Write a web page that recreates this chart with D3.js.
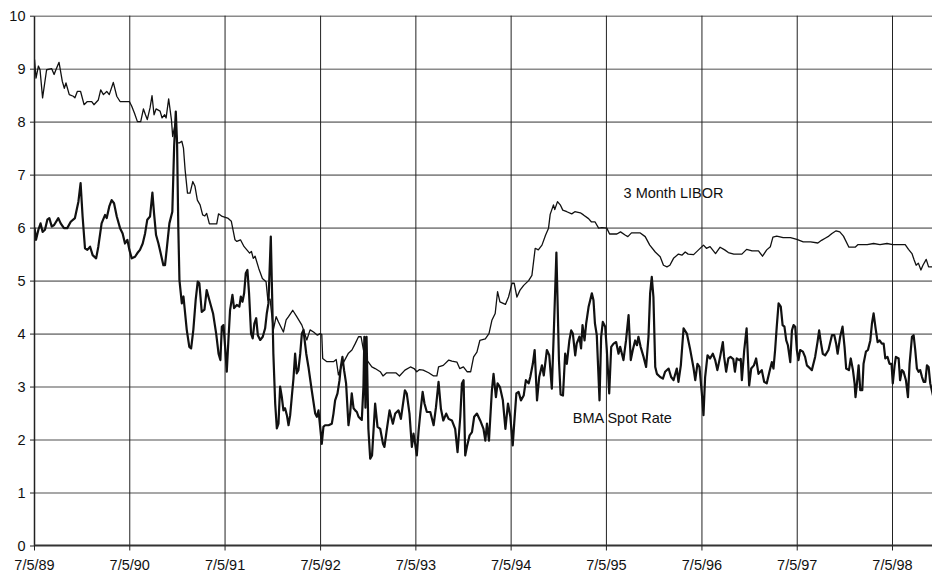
<!DOCTYPE html>
<html><head><meta charset="utf-8">
<script src="https://cdn.jsdelivr.net/npm/d3@7"></script>
<style>body{margin:0;background:#fff}svg{display:block;font-family:"Liberation Sans",Arial,Helvetica,sans-serif}</style>
</head><body><svg id="c" width="932" height="572"></svg>
<script>
// ---- data (weeks after 7/5/89, rate in %) ----
const startDate = new Date(1989, 6, 5);
const yTickValues = [0, 1, 2, 3, 4, 5, 6, 7, 8, 9, 10];
const xTickYears = [1989, 1990, 1991, 1992, 1993, 1994, 1995, 1996, 1997, 1998];
const seriesNames = ["3 Month LIBOR", "BMA Spot Rate"];
const labelAnchors = [[350, 6.56], [322, 2.31]]; // [week, rate] where each series name sits

const libor = [
[0.3,9.17],[1.1,8.82],[2.4,9.05],[3.3,8.98],[4.7,8.45],[6.9,8.98],[9.7,9.0],[11,8.89],[12,8.98],[13.7,9.12],
[15.5,8.76],[16.6,8.63],[17.5,8.73],[19.3,8.51],[21.5,8.48],[22.4,8.45],[23.7,8.57],[25.5,8.57],[27.4,8.32],[29.2,8.38],
[31.6,8.38],[32.8,8.32],[35.2,8.41],[36.5,8.6],[38,8.51],[39.8,8.57],[41.2,8.51],[43.4,8.74],[45.3,8.48],[47.1,8.38],
[52.2,8.38],[53.5,8.29],[55,8.16],[56.6,8.0],[58.4,8.0],[59.9,8.24],[61,8.13],[62,8.04],[63.5,8.26],[64.6,8.49],
[65.7,8.13],[66.8,8.24],[69,8.2],[70.1,8.07],[71.5,8.13],[72.3,8.07],[73.7,8.43],[75.2,8.04],[75.9,7.72],[77.2,7.95],
[78.5,7.6],[79.6,7.6],[80.9,7.63],[81.8,7.5],[82.7,7.09],[84,6.65],[85.4,6.65],[86.9,6.87],[88.1,6.78],[89.4,6.52],
[90.9,6.43],[92.3,6.24],[93.5,6.22],[94.5,6.27],[96,6.07],[100,6.07],[101,6.26],[103,6.21],[106,6.18],[108,6.12],
[110,5.77],[111,5.74],[113,5.77],[115,5.64],[116.5,5.58],[118,5.52],[119,5.55],[120,5.42],[121,5.46],[123,5.23],
[125,5.04],[127,4.98],[128,4.63],[129.2,4.65],[131,4.07],[132.5,4.32],[133.8,4.22],[136.5,4.03],[138,4.26],[139.3,4.32],
[141.6,4.44],[143.8,4.32],[146.6,4.16],[147.5,4.07],[149.3,3.88],[151.1,4.07],[153,4.03],[155.1,3.97],[156.6,4.0],[157.5,3.98],
[158,3.53],[160.3,3.47],[163.9,3.47],[165.4,3.51],[166.6,3.22],[168.5,3.4],[172.1,3.63],[174,3.69],[175.8,3.81],[177.6,3.94],
[179,3.94],[180.3,3.69],[182.2,3.5],[184.9,3.37],[186.7,3.34],[189.5,3.28],[191,3.2],[193,3.26],[198,3.26],[200,3.2],
[203,3.31],[206,3.37],[208,3.34],[209.5,3.28],[211,3.32],[213,3.31],[216,3.26],[218.7,3.2],[220.5,3.2],[221.4,3.37],
[224,3.4],[227,3.5],[228.7,3.48],[231.5,3.46],[233,3.34],[235,3.37],[237,3.28],[239,3.28],[240.6,3.56],[242.4,3.65],
[244,3.87],[247,3.9],[249,4.0],[250.6,4.25],[252.4,4.38],[253.7,4.79],[255,4.6],[258,4.55],[259.7,4.69],[261.6,4.95],
[262.8,4.95],[264.3,4.69],[266,4.82],[268,4.91],[270.7,5.0],[272.5,5.1],[274.3,5.61],[276,5.58],[278,5.67],[280,5.86],
[281.6,5.99],[282.5,6.25],[284.3,6.43],[285,6.34],[286.5,6.49],[288,6.43],[289.4,6.33],[291.6,6.3],[294.3,6.26],[296,6.3],
[299,6.28],[300.7,6.24],[303.5,6.17],[305,6.11],[307,6.11],[309,5.99],[310.8,6.0],[313.5,5.99],[315,5.88],[319,5.88],
[321,5.92],[323.5,5.86],[325,5.83],[327,5.9],[331.8,5.9],[334.5,5.83],[337,5.67],[340,5.54],[342.7,5.45],[344.5,5.29],
[346.4,5.26],[348,5.29],[350,5.42],[352.7,5.5],[354.6,5.48],[356.4,5.54],[358,5.5],[361,5.49],[363.7,5.58],[366.4,5.67],
[368,5.61],[370,5.64],[373,5.51],[375.5,5.63],[378,5.58],[380,5.53],[383,5.5],[387.4,5.5],[390,5.59],[393,5.56],
[396.5,5.56],[398.7,5.46],[401,5.58],[403,5.64],[404.4,5.82],[406.5,5.84],[410,5.81],[414,5.81],[417.5,5.78],[421,5.73],
[425,5.73],[429,5.71],[431,5.76],[433,5.8],[435,5.84],[436.7,5.89],[439,5.94],[441,5.92],[443,5.84],[446,5.63],
[449.4,5.63],[451,5.68],[456,5.68],[459.5,5.7],[463,5.68],[466.8,5.7],[470,5.68],[476.8,5.68],[478.6,5.59],[480.5,5.51],
[481.7,5.39],[482.8,5.29],[484,5.33],[485.4,5.2],[486.5,5.29],[488.3,5.4],[489.6,5.26],[492,5.26]
];

const bma = [
[0.3,6.0],[1.1,5.77],[2.4,5.96],[3.6,6.08],[4.7,5.92],[6,5.96],[7.3,6.15],[8.4,6.18],[9.7,6.02],[11,6.05],
[13.3,6.18],[14.6,6.08],[16.4,5.99],[18.2,5.99],[20.1,6.11],[22.4,6.18],[24.3,6.49],[25.5,6.84],[26.6,6.21],[27.9,5.61],
[29.2,5.58],[30.7,5.64],[32.1,5.48],[34,5.42],[35.2,5.64],[37,6.08],[38.9,6.24],[39.8,6.18],[41.2,6.4],[42.5,6.52],
[43.8,6.46],[45.3,6.21],[47.1,5.99],[48.5,5.89],[49.8,5.7],[51.1,5.77],[52.2,5.58],[53.5,5.42],[55.3,5.45],[56.6,5.52],
[58,5.58],[59.5,5.7],[60.8,5.89],[62,6.15],[63.5,6.21],[64.8,6.66],[65.7,6.27],[66.8,5.86],[68.1,5.7],[69.3,5.52],
[70.8,5.29],[71.7,5.29],[72.6,5.58],[74.1,6.08],[75.7,6.3],[76.7,7.53],[77.6,8.19],[78.3,7.59],[79,5.96],[79.6,5.01],
[80.9,4.57],[81.8,4.7],[83.6,4.07],[85,3.75],[86,3.72],[87.2,4.07],[88.5,4.64],[89.6,4.98],[90.5,4.95],[91.8,4.41],
[93.3,4.45],[94.5,4.82],[96,4.63],[98,4.38],[99.7,4.0],[101,3.62],[102,3.5],[102.8,4.13],[103.7,4.16],[104.6,3.75],
[105.5,3.28],[106.4,3.88],[107.3,4.44],[108.6,4.73],[109.5,4.48],[111,4.54],[112.4,4.51],[113.2,4.7],[114.1,4.6],[115,4.76],
[115.9,5.14],[116.8,5.2],[117.7,4.76],[118.8,4.0],[119.7,3.91],[120.6,4.19],[121.6,4.29],[122.5,3.97],[123.8,3.88],[125.2,3.94],
[126.5,4.1],[127.4,4.38],[128.3,4.57],[129.6,5.83],[130.3,4.76],[131,3.62],[132,2.68],[132.9,2.21],[133.8,2.3],[134.7,3.0],
[135.6,2.81],[136.5,2.55],[137.4,2.59],[138.4,2.46],[139.3,2.27],[140.2,2.46],[141.1,2.81],[142,3.15],[142.9,3.62],[143.8,3.25],
[144.7,3.31],[145.7,3.62],[146.6,4.0],[147.5,4.07],[148,3.91],[149,3.62],[150.2,3.37],[152,2.93],[153.9,2.49],[154.8,2.43],
[155.7,2.55],[156.6,2.24],[157.5,1.92],[158.4,2.24],[159.3,2.27],[161.2,2.27],[163,2.3],[163.9,2.49],[164.8,2.74],[166.1,2.87],
[167.2,3.12],[167.9,3.37],[168.8,3.56],[169.7,3.31],[170.8,3.06],[172.1,2.27],[173,2.49],[173.9,2.87],[174.9,2.59],[175.8,2.55],
[176.7,2.52],[177.6,2.43],[178.5,2.4],[179.4,2.37],[180.3,3.0],[180.8,3.94],[181.4,2.6],[182,3.94],[183,2.2],[184,1.64],
[185,1.7],[186.7,2.68],[188,2.24],[189.5,2.2],[191,1.92],[191.8,1.86],[193,2.17],[194.6,2.55],[196.4,2.3],[197.7,2.49],
[199.5,2.55],[200.8,2.39],[203,2.93],[204,2.87],[205.5,2.49],[206.8,1.86],[207.7,2.11],[208.6,1.92],[209.5,1.7],[210.5,2.17],
[211.4,2.49],[212.7,2.9],[213.7,2.68],[215,2.52],[216.9,2.52],[218.7,2.27],[220,2.61],[221.4,3.09],[222.7,2.58],[224,2.36],
[225.6,2.49],[226.9,2.39],[228.7,2.36],[230.5,2.2],[231.8,1.76],[233.3,2.43],[234.2,3.06],[235.1,3.12],[236,1.7],[236.9,1.86],
[238.4,2.08],[239.7,2.14],[240.9,2.43],[242.4,2.49],[244.2,2.36],[246,2.2],[247,1.98],[247.9,2.3],[249,1.98],[250.6,2.93],
[251.5,3.24],[252.8,2.8],[253.7,3.06],[255,2.99],[256.6,2.74],[258,2.2],[259.4,2.68],[260.7,2.43],[262,1.89],[262.8,2.3],
[264,2.87],[265.2,2.9],[266.5,2.74],[268,2.83],[269.2,3.12],[270.7,3.06],[271.6,3.18],[273,3.43],[274,3.69],[275.3,2.74],
[276.5,3.18],[278,3.4],[279,3.21],[280.7,3.69],[282,3.59],[283.4,2.96],[284.7,4.25],[285.9,5.53],[287.3,3.5],[288.2,2.85],
[289.5,2.83],[290.7,3.62],[291.6,3.43],[293,3.87],[294,4.06],[294.9,4.0],[296.2,3.59],[297,3.81],[298.5,3.94],[299.4,3.72],
[300.2,4.16],[301.3,3.87],[302.2,4.19],[303.5,4.5],[304.4,4.63],[305.3,4.76],[306.2,4.63],[307,4.19],[308,3.97],[309.5,2.74],
[310.4,3.94],[311.3,4.22],[312.6,4.13],[313.5,3.69],[314.8,2.87],[315.9,3.75],[317.2,3.81],[318.6,3.84],[319.9,3.62],[320.8,3.75],
[322.6,3.5],[324,3.87],[325.4,4.35],[326.6,3.5],[327.7,3.69],[329,3.87],[330,3.78],[330.8,3.94],[332,3.75],[333.6,3.56],
[335,3.37],[336.3,3.94],[337.2,4.76],[338.1,5.07],[339,4.69],[340,3.37],[340.9,3.24],[342.7,3.18],[344.2,3.15],[345.4,3.28],
[347.3,3.34],[348.7,3.18],[350,3.12],[351.8,3.34],[352.7,3.09],[354,3.4],[355.5,4.1],[357.3,4.0],[359,3.72],[361,3.34],
[361.9,3.12],[363.1,3.43],[364.2,3.37],[365.5,2.87],[366.4,2.46],[367.3,3.18],[368.6,3.59],[370,3.53],[371.5,3.62],[372.8,3.5],
[374,3.31],[375.5,3.56],[377,3.84],[377.7,3.56],[378.8,3.28],[380,3.53],[381.2,3.56],[382.7,3.52],[383.6,3.28],[384.6,3.53],
[386,3.5],[386.8,3.52],[387.4,3.12],[388.7,3.69],[390,4.1],[391.4,3.02],[392.5,3.34],[394,3.4],[395.2,3.53],[396.5,3.24],
[398.3,3.31],[399.6,3.09],[401,3.06],[402.5,3.28],[403.8,3.46],[404.7,3.34],[405.6,3.69],[406.5,4.13],[407.5,4.57],[408.7,4.51],
[409.7,4.16],[410.7,4.13],[411.7,3.87],[412.6,3.78],[413.9,3.46],[414.8,4.06],[415.7,4.16],[416.6,4.13],[417.5,3.69],[418.4,3.5],
[419.3,3.69],[420.8,3.66],[422,3.56],[423,3.4],[424.8,3.34],[425.7,3.31],[427.5,3.56],[428.8,3.84],[429.7,4.06],[430.6,3.84],
[431.7,3.62],[433,3.59],[434.8,3.69],[436.7,3.97],[438,3.97],[439,3.81],[439.8,3.62],[441.2,3.94],[442.5,4.13],[443.6,3.75],
[444.5,3.34],[446,3.31],[447,3.53],[448.2,3.31],[449.1,3.06],[449.6,2.8],[450.4,3.06],[451.3,3.4],[452.2,2.93],[453.3,2.93],
[454,3.43],[455.3,3.66],[456.4,3.69],[457.7,3.87],[458.6,4.19],[459.5,4.38],[460.6,4.1],[461.7,3.84],[462.8,3.87],[464,3.81],
[465,3.81],[465.9,3.53],[467.1,3.56],[468.2,3.43],[469.3,3.43],[470,3.06],[471,3.4],[471.7,3.56],[473.2,3.53],[474,3.12],
[475,3.31],[475.9,3.28],[477.2,3.12],[478.3,2.8],[479.2,3.43],[480.5,3.94],[481.4,3.97],[482.3,3.69],[483.2,3.34],[484.1,3.28],
[485,3.31],[486,3.18],[486.9,3.09],[487.8,3.09],[488.7,3.4],[489.6,3.37],[490.5,3.06],[492,2.83]
];

// ---- drawing ----
const plotLeft = 34, plotRight = 932, plotTop = 15.7, plotBottom = 545.5;
const toDate = w => new Date(startDate.getTime() + w * 7 * 864e5);
const yearDates = xTickYears.map(yr => new Date(yr, 6, 5));

const x = d3.scaleTime().domain([yearDates[0], yearDates[yearDates.length - 1]]).range([plotLeft, 892]);
const y = d3.scaleLinear().domain([0, 10]).range([plotBottom, plotTop]);

const svg = d3.select("#c");
svg.append("defs").append("clipPath").attr("id", "clip")
  .append("rect").attr("x", plotLeft).attr("y", 0).attr("width", plotRight - plotLeft).attr("height", plotBottom + 2);

// horizontal gridlines
const gy = svg.append("g").attr("transform", `translate(${plotLeft},0)`)
  .call(d3.axisRight(y).tickValues(yTickValues.filter(v => v > 0)).tickSize(plotRight - plotLeft).tickFormat(""));
gy.select(".domain").remove();
gy.selectAll(".tick line").attr("stroke", "#8a8a8a").attr("stroke-width", 1.6);

// vertical gridlines
const gx = svg.append("g").attr("transform", `translate(0,${plotBottom})`)
  .call(d3.axisTop(x).tickValues(yearDates.slice(1)).tickSize(plotBottom - plotTop).tickFormat(""));
gx.select(".domain").remove();
gx.selectAll(".tick line").attr("stroke", "#222").attr("stroke-width", 1);

// lines
const line = d3.line().x(d => x(toDate(d[0]))).y(d => y(d[1]));
const plot = svg.append("g").attr("clip-path", "url(#clip)");
plot.append("path").datum(libor).attr("d", line).attr("fill", "none")
  .attr("stroke", "#111").attr("stroke-width", 1.3).attr("stroke-linejoin", "round");
plot.append("path").datum(bma).attr("d", line).attr("fill", "none")
  .attr("stroke", "#111").attr("stroke-width", 2.2).attr("stroke-linejoin", "round");

// left axis
const ay = svg.append("g").attr("transform", `translate(${plotLeft},0)`)
  .call(d3.axisLeft(y).tickValues(yTickValues).tickSize(4).tickPadding(4.5).tickSizeOuter(0));
ay.select(".domain").attr("stroke", "#222").attr("stroke-width", 1.5);
ay.selectAll(".tick line").attr("stroke", "#222");
ay.selectAll("text").attr("font-size", 14.5).attr("fill", "#111").attr("font-family", '"Liberation Sans",Arial,sans-serif');

// bottom axis
const ax = svg.append("g").attr("transform", `translate(0,${plotBottom})`)
  .call(d3.axisBottom(x).tickValues(yearDates).tickSize(5).tickPadding(9.5).tickSizeOuter(0)
    .tickFormat(d3.timeFormat("%-m/%-d/%y")));
ax.select(".domain").attr("stroke", "#333").attr("stroke-width", 2).attr("d", `M${plotLeft},0H${plotRight}`);
ax.selectAll(".tick line").attr("stroke", "#222");
ax.selectAll("text").attr("font-size", 14.5).attr("fill", "#111").attr("font-family", '"Liberation Sans",Arial,sans-serif');

// series labels
svg.selectAll("text.series").data(seriesNames).join("text").attr("class", "series")
  .attr("x", (d, i) => x(toDate(labelAnchors[i][0])))
  .attr("y", (d, i) => y(labelAnchors[i][1]))
  .attr("text-anchor", "middle").attr("font-size", 14.5).attr("fill", "#111")
  .text(d => d);
</script></body></html>
